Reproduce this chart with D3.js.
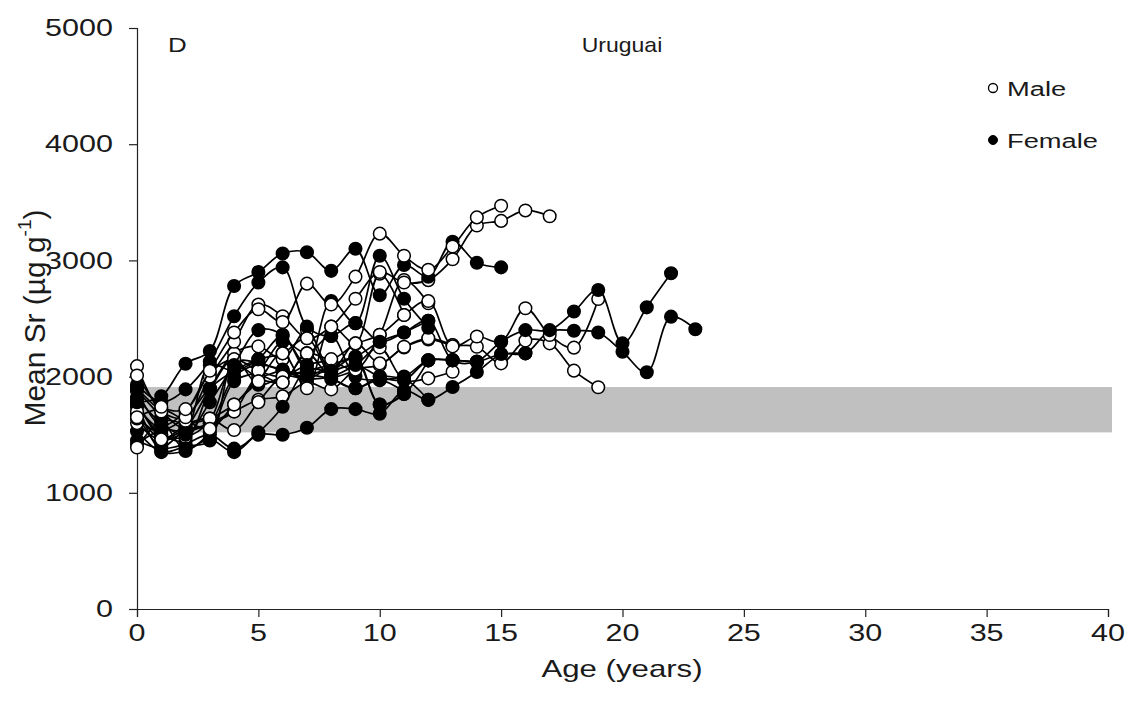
<!DOCTYPE html>
<html><head><meta charset="utf-8">
<script src="https://cdn.jsdelivr.net/npm/d3@7"></script>
<style>body{margin:0;background:#fff}svg{display:block}text{font-family:"Liberation Sans",Arial,sans-serif;fill:#1a1a1a}</style>
</head><body><svg id="c" width="1133" height="713"></svg>
<script>
// Data (values in µg g-1 by age, starting at age 0)
const xTicks = [0,5,10,15,20,25,30,35,40];
const yTicks = [0,1000,2000,3000,4000,5000];
const band = [1520, 1910];
const m1 = [2010,1740,1720,2050,2380,2580,2470,2800,2620,2860,3230,3040,2920,3120,3370,3470];
const m2 = [2090,1700,1650,2000,2300,2620,2520,2330,2430,2670,2900,2810,2830,3010,3300,3340,3430,3380];
const m3 = [1700,1460,1580,1640,1760,1960,1950,2200,2150,2280,2360,2530,2650,2260,2345,2300,2588,2358,2249,2668];
const m4 = [1420,1540,1530,1600,1700,1800,1830,1950,1890,2060,2100,2250,2320,2270,2257,2114,2310,2286,2051,1908];
const m5 = [1390,1620,1600,1640,1540,1780,2000,1980,2000,2100,2250,1970,1985,2042];
const m6 = [1800,1480,1560,1900,2200,2260,2150,2400,2050,2286,2114,2257,2330,2272];
const m7 = [1880,1580,1700,2030,2150,2050,2000,2100,2130,2060,2360,2831,2631];
const m8 = [1650,1720,1620,1550,1760,1960,2200,1900,2430,2286,2886,2530];
const m9 = [1760,1500,1480,1620,2100,2000,2050,1980,2100];
const m10 = [1600,1450,1520,1590,1700,2000,1950,2200,2000,2060];
const f1 = [1780,1830,2110,2220,2780,2900,3060,3070,2910,3100,2700,2960,2860,3160,2980,2940];
const f2 = [1930,1780,1890,2130,2520,2810,2940,2430,2350,2460,2300,2380,2480,2140,2130,2300,2400,2400,2560,2745,2286,2596,2889];
const f3 = [1530,1350,1360,1460,1350,1500,1500,1560,1720,1720,1680,1880,1800,1910,2040,2190,2200,2390,2395,2380,2214,2037,2516,2407];
const f4 = [1450,1380,1420,1500,1380,1520,1740,2060,2050,2170,1760,1850,2140];
const f5 = [1820,1600,1500,1780,2100,2400,2360,2100,2650,2460,3040,2670,2420];
const f6 = [1740,1550,1650,1900,2050,2150,2200,2330,2000,1900,2000,2000,2140,2140,2128];
const f7 = [1680,1400,1540,1600,2000,2100,2060,2000,2100,2170,2300,2380,2480];
const f8 = [1880,1650,1380,1520,1960,2050,2300,2200,2350,2000,1970,1980,1800];
const f9 = [1640,1500,1450,1880,2150,1930,2000,2050,2100,2150,1760,1850];
const f10 = [1900,1700,1560,2100,2050,2150,2350,2050,2050,2100,2000,1970,2140,2143,2128,2194,2200];
const f11 = [1790,1360,1400,1450,2120,2120,2050,2020,1980,1900,1970,1870];

const series = [
  {v:f3,s:"F"},{v:m4,s:"M"},{v:f4,s:"F"},{v:m5,s:"M"},{v:f11,s:"F"},{v:m10,s:"M"},
  {v:f9,s:"F"},{v:m9,s:"M"},{v:f8,s:"F"},{v:m6,s:"M"},{v:f7,s:"F"},{v:m7,s:"M"},
  {v:f6,s:"F"},{v:m3,s:"M"},{v:f10,s:"F"},{v:m8,s:"M"},{v:f5,s:"F"},{v:f2,s:"F"},
  {v:m2,s:"M"},{v:f1,s:"F"},{v:m1,s:"M"}
];

const svg = d3.select("#c");
const L=137,R=1108,T=28,B=609;
const x = d3.scaleLinear().domain([0,40]).range([L,R]);
const y = d3.scaleLinear().domain([0,5000]).range([B,T]);
function txt(px,py,str,size,anchor,sx){
  const g = svg.append("g").attr("transform",`translate(${px},${py}) scale(${sx||1.3},1)`);
  return g.append("text").attr("text-anchor",anchor||"start").attr("dominant-baseline","central")
    .style("font-size",size+"px").text(str);
}

// gray band
svg.append("rect").attr("x",x(0)).attr("width",x(40)-x(0)+4)
  .attr("y",y(band[1])).attr("height",y(band[0])-y(band[1])).attr("fill","#c0c0c0");

// axes
const ax = svg.append("g").attr("transform",`translate(0,${B})`)
  .call(d3.axisBottom(x).tickValues(xTicks).tickSize(8).tickFormat(""));
const ay = svg.append("g").attr("transform",`translate(${L},0)`)
  .call(d3.axisLeft(y).tickValues(yTicks).tickSize(8).tickFormat(""));
[ax,ay].forEach(a=>{a.select(".domain").attr("stroke","#222").attr("stroke-width",1.2);
  a.selectAll(".tick line").attr("stroke","#222").attr("stroke-width",1.2);});
xTicks.forEach(t=>txt(x(t),633,String(t),23.5,"middle"));
yTicks.forEach(t=>txt(113,y(t),String(t),23.5,"end"));

// lines
const line = d3.line().x((d,i)=>x(i)).y(d=>y(d)).curve(d3.curveCatmullRom.alpha(0.5));
series.forEach(s=>{
  const g = svg.append("g");
  g.append("path").attr("d",line(s.v)).attr("fill","none").attr("stroke","#000").attr("stroke-width",1.7);
  g.selectAll("circle").data(s.v).join("circle")
    .attr("cx",(d,i)=>x(i)).attr("cy",d=>y(d)).attr("r",6.3)
    .attr("fill",s.s==="M"?"#fff":"#000").attr("stroke","#000").attr("stroke-width",1.5);
});

// titles
txt(622,669,"Age (years)",24,"middle");
const yt = svg.append("g").attr("transform","translate(35,318) rotate(-90) scale(1.36,1.3)")
  .append("text").attr("text-anchor","middle").attr("dominant-baseline","central").style("font-size","22px");
yt.append("tspan").text("Mean Sr (µg g");
yt.append("tspan").attr("dy",-8).style("font-size","14px").text("-1");
yt.append("tspan").attr("dy",8).text(")");
txt(168,45,"D",20,"start");
txt(622,45,"Uruguai",20,"middle",1.15);

// legend
svg.append("circle").attr("cx",993).attr("cy",88).attr("r",4.5).attr("fill","#fff").attr("stroke","#000").attr("stroke-width",1.3);
svg.append("circle").attr("cx",993).attr("cy",140).attr("r",4.5).attr("fill","#000").attr("stroke","#000");
txt(1007,89,"Male",21,"start");
txt(1007,141,"Female",21,"start");
</script></body></html>
